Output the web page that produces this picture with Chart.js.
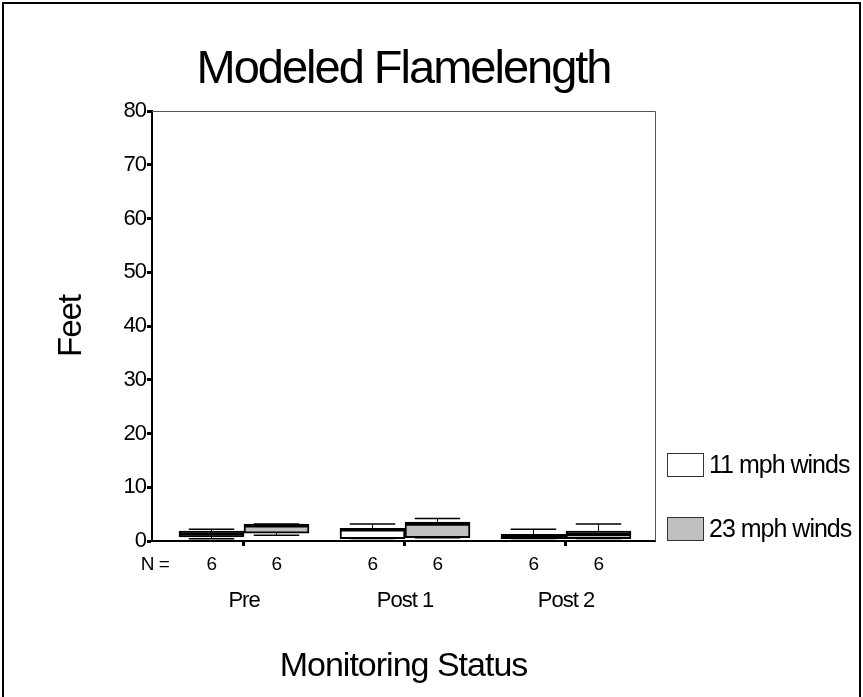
<!DOCTYPE html>
<html><head><meta charset="utf-8">
<script src="https://cdn.jsdelivr.net/npm/chart.js@4"></script>
<style>html,body{margin:0;padding:0;background:#fff}#wrap{position:relative;width:863px;height:697px}</style>
</head><body><div id="wrap"><canvas id="c" width="863" height="697"></canvas></div>
<script>
const categories = ['Pre', 'Post 1', 'Post 2'];
const seriesNames = ['11 mph winds', '23 mph winds'];
const seriesFill = ['#ffffff', '#c0c0c0'];
// 11 mph winds
const min11 = [0.4, 0.45, 0.45];
const q1_11 = [0.75, 0.45, 0.45];
const med11 = [1.3, 2.05, 0.9];
const q3_11 = [1.85, 2.35, 1.25];
const max11 = [2.2, 3.15, 2.2];
// 23 mph winds
const min23 = [1.05, 0.6, 0.45];
const q1_23 = [1.45, 0.6, 0.45];
const med23 = [2.8, 3.1, 1.2];
const q3_23 = [3.15, 3.5, 1.85];
const max23 = [3.15, 4.2, 3.15];
const n11 = [6, 6, 6];
const n23 = [6, 6, 6];
const yTicks = [0, 10, 20, 30, 40, 50, 60, 70, 80];

const FONT = '"Liberation Sans", Arial, sans-serif';
const W = 863, H = 697;
const PLOT = {left: 152, right: 655, top: 111, bottom: 541};

const stats = [
  {min: min11, q1: q1_11, med: med11, q3: q3_11, max: max11, n: n11},
  {min: min23, q1: q1_23, med: med23, q3: q3_23, max: max23, n: n23}
];

const extras = {
  id: 'extras',
  beforeDraw(chart) {
    chart.ctx.letterSpacing = '-1px';
  },
  afterDatasetsDraw(chart) {
    const ctx = chart.ctx, ys = chart.scales.y;
    ctx.save();
    ctx.strokeStyle = '#000';
    stats.forEach((s, i) => {
      const meta = chart.getDatasetMeta(i);
      meta.data.forEach((bar, j) => {
        const x = bar.x, w = bar.width;
        const yMin = ys.getPixelForValue(s.min[j]);
        const yMax = ys.getPixelForValue(s.max[j]);
        const yQ1 = ys.getPixelForValue(s.q1[j]);
        const yQ3 = ys.getPixelForValue(s.q3[j]);
        const yMed = ys.getPixelForValue(s.med[j]);
        ctx.lineWidth = 1;
        ctx.beginPath();
        ctx.moveTo(x, yQ3); ctx.lineTo(x, yMax);
        ctx.moveTo(x, yQ1); ctx.lineTo(x, yMin);
        ctx.stroke();
        ctx.lineWidth = 1.5;
        ctx.beginPath();
        ctx.moveTo(x - w * 0.35, yMax); ctx.lineTo(x + w * 0.35, yMax);
        ctx.moveTo(x - w * 0.35, yMin); ctx.lineTo(x + w * 0.35, yMin);
        ctx.stroke();
        ctx.lineWidth = 3;
        ctx.beginPath();
        ctx.moveTo(x - w / 2, yMed); ctx.lineTo(x + w / 2, yMed);
        ctx.stroke();
      });
    });
    ctx.restore();
  },
  afterDraw(chart) {
    const ctx = chart.ctx, a = chart.chartArea;
    ctx.save();
    // plot frame top/right
    ctx.strokeStyle = '#555';
    ctx.lineWidth = 1;
    ctx.beginPath();
    ctx.moveTo(a.left, a.top + 0.5); ctx.lineTo(a.right + 0.5, a.top + 0.5); ctx.lineTo(a.right + 0.5, a.bottom);
    ctx.stroke();
    // outer frame
    ctx.strokeStyle = '#000';
    ctx.lineWidth = 2;
    ctx.beginPath();
    ctx.moveTo(3, H); ctx.lineTo(3, 3); ctx.lineTo(W - 3, 3); ctx.lineTo(W - 3, H);
    ctx.stroke();
    // title
    ctx.fillStyle = '#000';
    ctx.letterSpacing = '-2px';
    ctx.font = '47px ' + FONT;
    ctx.textAlign = 'center';
    ctx.textBaseline = 'middle';
    ctx.fillText('Modeled Flamelength', (a.left + a.right) / 2, 70);
    // N = row
    ctx.letterSpacing = '-0.5px';
    ctx.font = '19px ' + FONT;
    ctx.fillText('N =', 155, 565);
    stats.forEach((s, i) => {
      chart.getDatasetMeta(i).data.forEach((bar, j) => {
        ctx.fillText(String(s.n[j]), bar.x, 565);
      });
    });
    // legend
    ctx.letterSpacing = '-1px';
    ctx.font = '25px ' + FONT;
    ctx.textAlign = 'left';
    const legY = [465, 529];
    seriesNames.forEach((nm, i) => {
      ctx.fillStyle = seriesFill[i];
      ctx.fillRect(667, legY[i] - 12, 37, 24);
      ctx.strokeStyle = '#333';
      ctx.lineWidth = 1;
      ctx.strokeRect(667.5, legY[i] - 11.5, 36, 23);
      ctx.fillStyle = '#000';
      ctx.fillText(nm, 709, legY[i] + 1);
    });
    ctx.restore();
  }
};

new Chart(document.getElementById('c'), {
  type: 'bar',
  data: {
    datasets: stats.map((s, i) => ({
      label: seriesNames[i],
      data: s.q1.map((v, j) => ({x: j + 1, y: [v, s.q3[j]]})),
      backgroundColor: seriesFill[i],
      borderColor: '#000',
      borderWidth: 2,
      borderSkipped: false,
      barThickness: 65
    }))
  },
  options: {
    responsive: false,
    animation: false,
    devicePixelRatio: 1,
    layout: {padding: {top: PLOT.top, right: W - PLOT.right, left: 0, bottom: 0}},
    plugins: {legend: {display: false}, title: {display: false}, tooltip: {enabled: false}},
    scales: {
      x: {
        type: 'linear',
        min: 0.4286, max: 3.5528,
        offset: false,
        afterFit(scale) { scale.height = H - PLOT.bottom; },
        afterBuildTicks(scale) { scale.ticks = categories.map((c, i) => ({value: i + 1})); },
        grid: {display: true, offset: false, drawOnChartArea: false, tickLength: 5, tickWidth: 3, color: '#000'},
        border: {display: true, color: '#000', width: 2},
        ticks: {color: '#000', autoSkip: false, maxRotation: 0, font: {family: FONT, size: 22}, padding: 42,
                callback: (v) => categories[Math.round(v) - 1]},
        title: {display: true, text: 'Monitoring Status', color: '#000', font: {family: FONT, size: 34}, padding: {top: 0, bottom: 10}}
      },
      y: {
        min: 0, max: 80,
        afterFit(scale) { scale.width = PLOT.left; },
        afterBuildTicks(scale) { scale.ticks = yTicks.map(v => ({value: v})); },
        grid: {display: true, drawOnChartArea: false, tickLength: 5, tickWidth: 3, color: '#000'},
        border: {display: true, color: '#000', width: 2},
        ticks: {color: '#000', font: {family: FONT, size: 22}, padding: 1},
        title: {display: true, text: 'Feet', color: '#000', font: {family: FONT, size: 33}, padding: {top: 52, bottom: 0}}
      }
    }
  },
  plugins: [extras]
});
</script></body></html>
